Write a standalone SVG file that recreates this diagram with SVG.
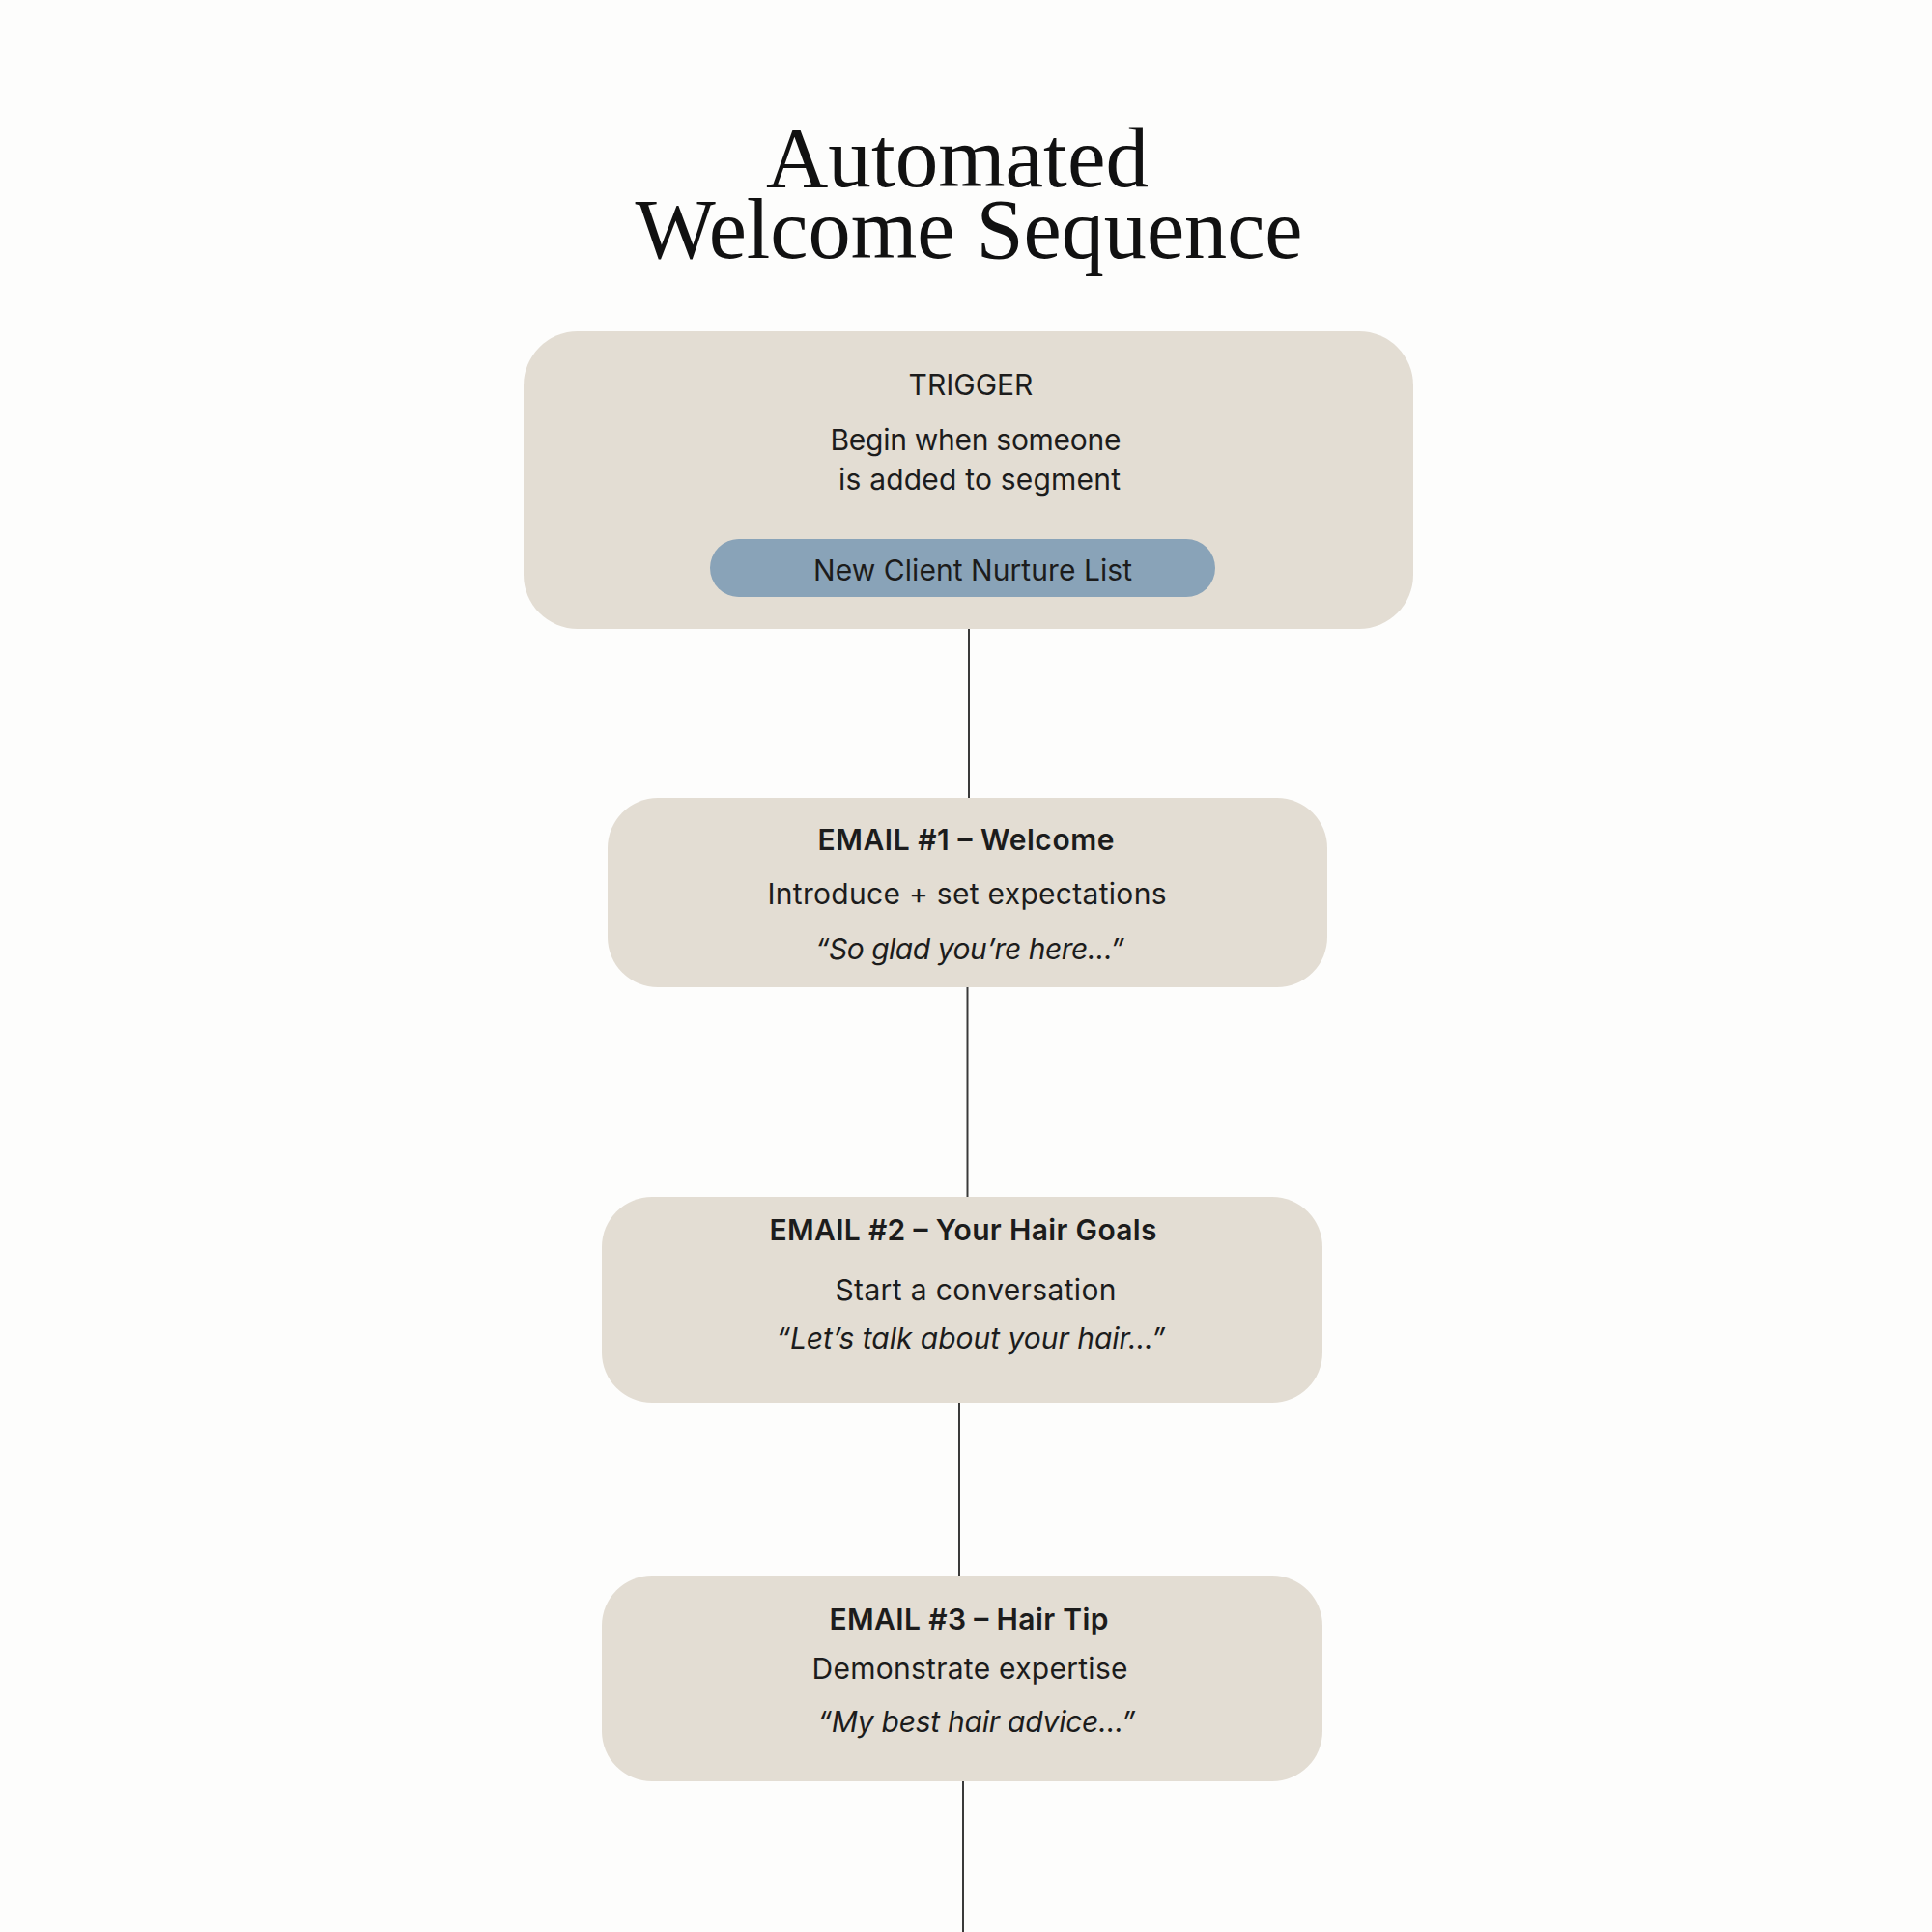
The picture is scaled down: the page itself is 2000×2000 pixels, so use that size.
<svg xmlns="http://www.w3.org/2000/svg" width="2000" height="2000" viewBox="0 0 2000 2000">
<style>
.bg{fill:#fdfdfc}
.box{fill:#e3ddd3}
.pill{fill:#89a3b8}
.title{font-family:"Liberation Serif","Times New Roman",serif;font-size:88px;fill:#111;text-anchor:middle}
.t{font-family:"Inter","DejaVu Sans",sans-serif;fill:#1c1c1c;text-anchor:middle;font-size:30px}
.h{font-weight:600}
.i{font-style:italic}
.conn line{stroke:#3a3a3a;stroke-width:2}
</style>
<rect class="bg" x="0" y="0" width="2000" height="2000"/>
<g id="title">
<text class="title"><tspan x="991" y="193" textLength="396" lengthAdjust="spacingAndGlyphs">Automated</tspan><tspan x="1003" y="267" textLength="691" lengthAdjust="spacingAndGlyphs">Welcome Sequence</tspan></text>
</g>
<g class="conn" id="connectors">
<line x1="1003" y1="651" x2="1003" y2="826"/>
<line x1="1001.5" y1="1022" x2="1001.5" y2="1239"/>
<line x1="993" y1="1452" x2="993" y2="1631"/>
<line x1="997" y1="1844" x2="997" y2="2000"/>
</g>
<g id="trigger">
<rect class="box" x="542" y="343" width="921" height="308" rx="56" ry="56"/>
<text class="t" x="1005" y="409">TRIGGER</text>
<text class="t" x="1010" y="466" textLength="301" lengthAdjust="spacing">Begin when someone</text>
<text class="t" x="1014" y="507" textLength="292" lengthAdjust="spacing">is added to segment</text>
<g id="segment">
<rect class="pill" x="735" y="558" width="523" height="60" rx="30" ry="30"/>
<text class="t" x="1007" y="601" textLength="330" lengthAdjust="spacing">New Client Nurture List</text>
</g>
</g>
<g id="email1">
<rect class="box" x="629" y="826" width="745" height="196" rx="52" ry="52"/>
<text class="t h" x="1000" y="880" textLength="307" lengthAdjust="spacing">EMAIL #1 – Welcome</text>
<text class="t" x="1001" y="936" textLength="413" lengthAdjust="spacing">Introduce + set expectations</text>
<text class="t i" x="1004" y="993" textLength="320" lengthAdjust="spacing">“So glad you’re here…”</text>
</g>
<g id="email2">
<rect class="box" x="623" y="1239" width="746" height="213" rx="52" ry="52"/>
<text class="t h" x="997" y="1284" textLength="401" lengthAdjust="spacing">EMAIL #2 – Your Hair Goals</text>
<text class="t" x="1010" y="1346" textLength="291" lengthAdjust="spacing">Start a conversation</text>
<text class="t i" x="1005" y="1396" textLength="403" lengthAdjust="spacing">“Let’s talk about your hair…”</text>
</g>
<g id="email3">
<rect class="box" x="623" y="1631" width="746" height="213" rx="52" ry="52"/>
<text class="t h" x="1003" y="1687" textLength="289" lengthAdjust="spacing">EMAIL #3 – Hair Tip</text>
<text class="t" x="1004" y="1738" textLength="327" lengthAdjust="spacing">Demonstrate expertise</text>
<text class="t i" x="1011" y="1793" textLength="329" lengthAdjust="spacing">“My best hair advice…”</text>
</g>
</svg>
